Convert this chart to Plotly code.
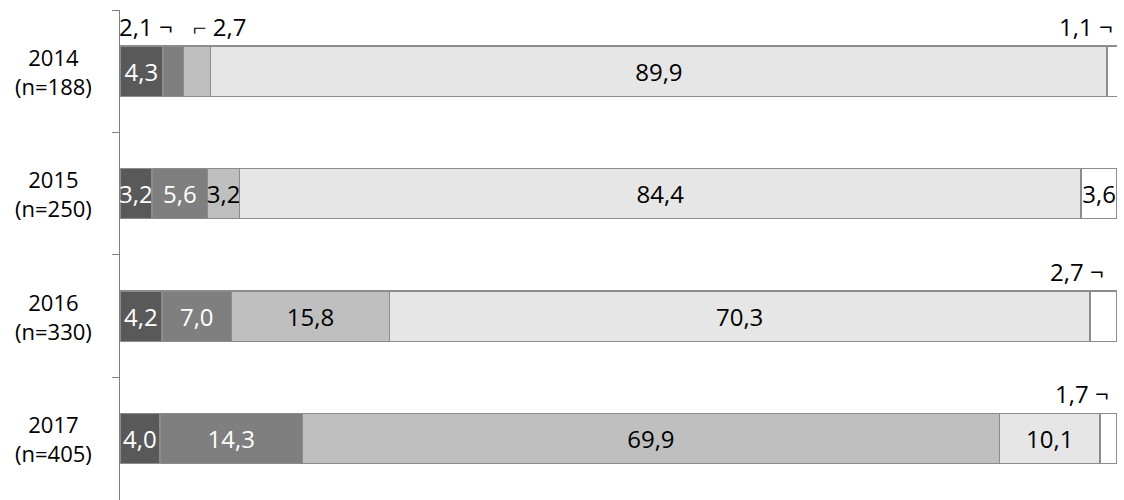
import plotly.graph_objects as go

years = ["2014<br>(n=188)", "2015<br>(n=250)", "2016<br>(n=330)", "2017<br>(n=405)"]
s1 = [4.3, 3.2, 4.2, 4.0]
s2 = [2.1, 5.6, 7.0, 14.3]
s3 = [2.7, 3.2, 15.8, 69.9]
s4 = [89.9, 84.4, 70.3, 10.1]
s5 = [1.1, 3.6, 2.7, 1.7]
series = [s1, s2, s3, s4, s5]
colors = ["#595959", "#7f7f7f", "#bfbfbf", "#e6e6e6", "#ffffff"]
text_colors = ["white", "white", "black", "black", "black"]
# callouts for small segments: (year index, series index, side)
callouts = [(0, 1, "left"), (0, 2, "right"), (0, 4, "left"), (2, 4, "left"), (3, 4, "left")]
callout_set = {(a, b) for a, b, _ in callouts}

FONT = "Open Sans"
fig = go.Figure()
for si, vals in enumerate(series):
    texts = []
    for yi, v in enumerate(vals):
        texts.append("" if (yi, si) in callout_set else f"{v:.1f}".replace(".", ","))
    fig.add_trace(go.Bar(
        y=years, x=vals, orientation="h",
        marker=dict(color=colors[si], line=dict(color="#8c8c8c", width=1.3)),
        text=texts, textposition="inside", insidetextanchor="middle",
        constraintext="none", textangle=0,
        textfont=dict(color=text_colors[si], size=24, family=FONT),
        hoverinfo="skip", showlegend=False,
    ))

for yi, si, side in callouts:
    start = sum(series[k][yi] for k in range(si))
    mid = start + series[si][yi] / 2
    lbl = f"{series[si][yi]:.1f}".replace(".", ",")
    if side == "left":
        txt, anchor = lbl + " ¬", "right"
    else:
        txt, anchor = "⌐ " + lbl, "left"
    fig.add_annotation(x=mid, y=years[yi], xref="x", yref="y", text=txt,
                       showarrow=False, xanchor=anchor, yanchor="middle",
                       yshift=45, xshift=(2 if side == "left" else -6),
                       font=dict(size=24, family=FONT, color="black"))

# centered category labels
for y in years:
    fig.add_annotation(x=-0.0667, y=y, xref="paper", yref="y", text=y,
                       showarrow=False, xanchor="center", yanchor="middle", align="center",
                       font=dict(size=22, family=FONT, color="black"))

fig.update_layout(
    width=1124, height=502, barmode="stack", bargap=0.59,
    separators=", ",
    margin=dict(l=120, r=7, t=9.5, b=0),
    plot_bgcolor="white", paper_bgcolor="white",
    xaxis=dict(range=[0, 100], visible=False),
    yaxis=dict(autorange="reversed", showline=True, linecolor="#808080", linewidth=1.3,
               ticks="outside", tickson="boundaries", ticklen=7, tickcolor="#808080",
               showticklabels=False,
               showgrid=False, zeroline=False),
)
fig.write_html("out.html", config={"displayModeBar": False},
               post_script="document.body.style.margin='0';document.body.style.overflow='hidden';")
